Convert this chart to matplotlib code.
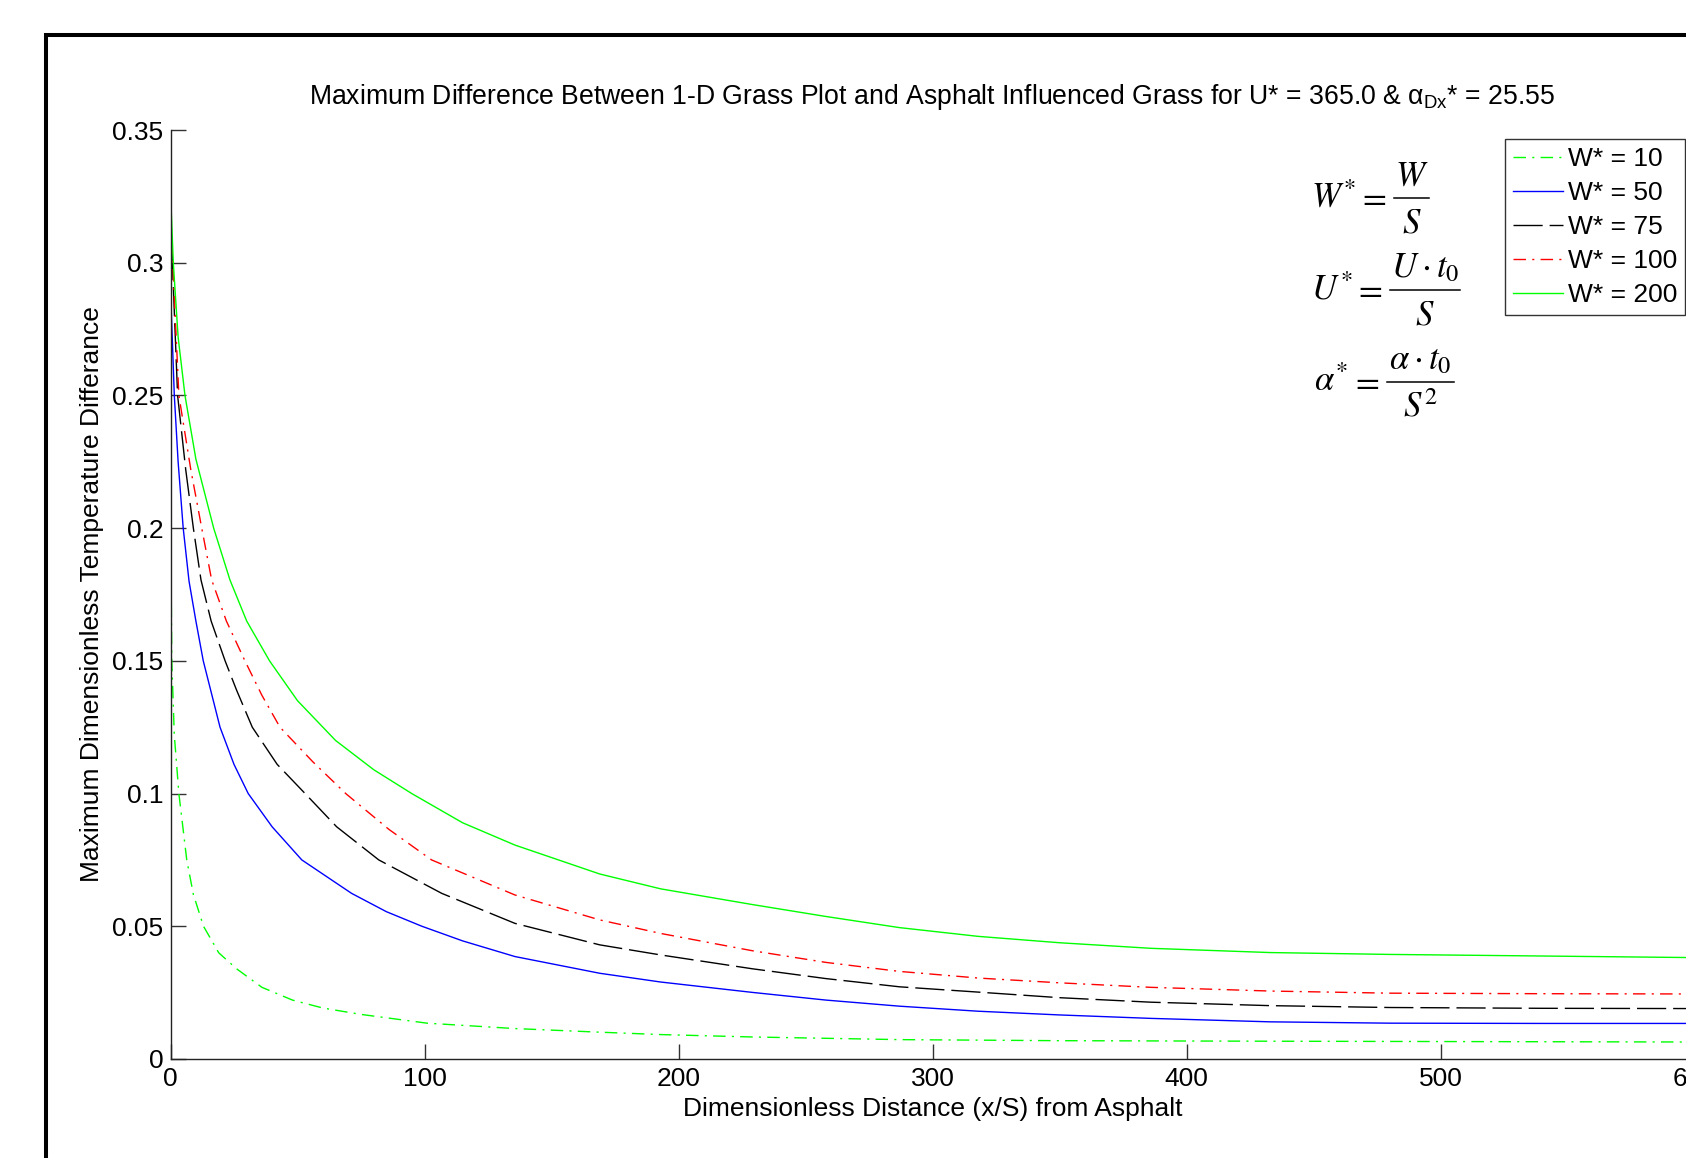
import matplotlib
matplotlib.use('Agg')
import matplotlib.pyplot as plt
from matplotlib.patches import Rectangle
from matplotlib.lines import Line2D

plt.rcParams['font.family'] = ['Liberation Sans', 'DejaVu Sans']
plt.rcParams['mathtext.rm'] = 'Liberation Sans'
plt.rcParams['mathtext.it'] = 'Liberation Sans:italic'
plt.rcParams['mathtext.bf'] = 'Liberation Sans:bold'

# ---------------- data ----------------
x_w10 = [0, 0.5, 1.5, 3.3, 6.4, 9, 13, 19, 26, 36, 48, 60, 75, 101, 135, 166.5,
         193, 229, 287, 350, 433, 600]
y_w10 = [0.212, 0.150, 0.122, 0.100, 0.075, 0.062, 0.050, 0.040, 0.034, 0.027,
         0.0222, 0.0192, 0.0168, 0.0135, 0.0115, 0.0102, 0.0092, 0.0083, 0.0073,
         0.0069, 0.0067, 0.0064]

x_w50 = [0, 1.5, 3, 5, 7.3, 10, 12.9, 19.5, 25, 30.6, 40, 51.7, 71.3, 85, 99, 115,
         135.6, 169, 193, 229, 258, 287, 318, 350, 386, 433, 480, 540, 600]
y_w50 = [0.290, 0.250, 0.225, 0.200, 0.180, 0.165, 0.150, 0.125, 0.111, 0.100,
         0.0875, 0.075, 0.0624, 0.0555, 0.050, 0.0445, 0.0386, 0.0323, 0.0290,
         0.0251, 0.0222, 0.0199, 0.0180, 0.0166, 0.0153, 0.0140, 0.0135, 0.0134,
         0.0134]

x_w75 = [0, 2.8, 6, 9, 12, 16, 21.5, 26, 32.2, 42, 53, 65.4, 82, 106.8, 135.6, 169,
         193, 229, 258, 287, 318, 350, 386, 433, 480, 540, 600]
y_w75 = [0.318, 0.250, 0.222, 0.200, 0.1805, 0.165, 0.150, 0.139, 0.125, 0.111,
         0.100, 0.0875, 0.075, 0.0624, 0.0511, 0.0430, 0.0392, 0.0340, 0.0303,
         0.0272, 0.0252, 0.0231, 0.0214, 0.0201, 0.0194, 0.0191, 0.0190]

x_w100 = [0, 3.3, 8, 12.3, 16.2, 22, 29.3, 36, 43.1, 56, 69, 86, 102.8, 135.6, 169,
          193, 229, 258, 287, 318, 350, 386, 433, 480, 540, 600]
y_w100 = [0.318, 0.250, 0.222, 0.200, 0.1805, 0.165, 0.150, 0.137, 0.125, 0.112,
          0.100, 0.0865, 0.075, 0.0618, 0.0524, 0.0473, 0.0408, 0.0364, 0.0330,
          0.0305, 0.0287, 0.0270, 0.0256, 0.0248, 0.0246, 0.0245]

x_w200 = [0, 1.1, 3, 5.7, 10, 17, 23.4, 30, 39, 50, 65, 80, 95, 115, 135.6, 169,
          193, 229, 258, 287, 318, 350, 386, 433, 480, 540, 600]
y_w200 = [0.327, 0.300, 0.272, 0.250, 0.226, 0.200, 0.1805, 0.165, 0.150, 0.135,
          0.120, 0.109, 0.100, 0.089, 0.0806, 0.0697, 0.0641, 0.0582, 0.0537,
          0.0495, 0.0462, 0.0438, 0.0417, 0.0401, 0.0394, 0.0388, 0.0382]

series_labels = ['W* = 10', 'W* = 50', 'W* = 75', 'W* = 100', 'W* = 200']
x_ticks = [0, 100, 200, 300, 400, 500, 600]
x_tick_labels = ['0', '100', '200', '300', '400', '500', '600']
y_ticks = [0, 0.05, 0.1, 0.15, 0.2, 0.25, 0.3, 0.35]
y_tick_labels = ['0', '0.05', '0.1', '0.15', '0.2', '0.25', '0.3', '0.35']

title_text = ('Maximum Difference Between 1-D Grass Plot and Asphalt Influenced Grass '
              'for U* = 365.0 & \u03b1$_{\\mathrm{Dx}}$* = 25.55')
x_label = 'Dimensionless Distance (x/S) from Asphalt'
y_label = 'Maximum Dimensionless Temperature Differance'

# ---------------- figure ----------------
W, H = 1686, 1158
fig = plt.figure(figsize=(W / 100, H / 100), dpi=100)
fig.patch.set_facecolor('white')

# outer black frame (cropped at right/bottom)
fig.add_artist(Rectangle((46 / W, -0.5), 2.0, 0.5 + (H - 35) / H,
                         transform=fig.transFigure, fill=False,
                         lw=2.9, ec='black', clip_on=False))

ax_left, ax_right = 170.5, 1694.5
ax_top, ax_bottom = 130, 1059
ax = fig.add_axes([ax_left / W, (H - ax_bottom) / H,
                   (ax_right - ax_left) / W, (ax_bottom - ax_top) / H])

dashdot = (0, (9, 4.5, 1.5, 4.5))
dashed = (0, (21, 5))
styles = [
    dict(color='#00FF00', linestyle=dashdot),
    dict(color='#0000FF', linestyle='-'),
    dict(color='black', linestyle=dashed),
    dict(color='#FF0000', linestyle=dashdot),
    dict(color='#00FF00', linestyle='-'),
]
xs = [x_w10, x_w50, x_w75, x_w100, x_w200]
ys = [y_w10, y_w50, y_w75, y_w100, y_w200]
handles = []
for xv, yv, st, lab in zip(xs, ys, styles, series_labels):
    h, = ax.plot(xv, yv, lw=1.0, label=lab, **st)
    handles.append(h)

ax.set_xlim(0, 600)
ax.set_ylim(0, 0.35)
ax.set_xticks(x_ticks)
ax.set_xticklabels(x_tick_labels)
ax.set_yticks(y_ticks)
ax.set_yticklabels(y_tick_labels)
for s in ['top', 'right']:
    ax.spines[s].set_visible(False)
for s in ['left', 'bottom']:
    ax.spines[s].set_linewidth(1.0)
    ax.spines[s].set_color('#222222')
ax.tick_params(direction='in', length=10.8, width=1.0, color='#333333',
               labelsize=19, labelcolor='black')
ax.tick_params(axis='x', pad=6)
ax.tick_params(axis='y', pad=5)

ax.set_xlabel(x_label, fontsize=19)
ax.xaxis.set_label_coords(0.5, -0.041)
ax.set_ylabel(y_label, fontsize=19)
ax.yaxis.set_label_coords(-0.0436, 0.5)

fig.text(932 / W, 1 - 104.5 / H, title_text, fontsize=19.2, ha='center',
         va='baseline', math_fontfamily='custom')

leg = ax.legend(handles=handles, loc='upper left',
                bbox_to_anchor=(1505 / W, 1 - 139 / H),
                bbox_transform=fig.transFigure, fontsize=19, frameon=True,
                fancybox=False, edgecolor='#333333', framealpha=1,
                handlelength=1.9, handletextpad=0.19, borderpad=0.3,
                labelspacing=0.38, borderaxespad=0)
leg.get_frame().set_linewidth(1.0)

# dimensionless definitions, laid out as stacked fractions
eq_lhs = [r'$W^{*}$', r'$U^{*}$', r'$\alpha^{*}$']
eq_num = [r'$W$', r'$U\cdot t_{0}$', r'$\alpha\cdot t_{0}$']
eq_den = [r'$S$', r'$S$', r'$S^{2}$']
eq_left = [1310.7, 1310.7, 1314.0]
eq_equals_x = [1357, 1353, 1350]
eq_bar_y = [198.3, 290, 381.7]
eq_bar_x = [(1394, 1429), (1390, 1460), (1387, 1454)]
for lhs, num, den, lx, ex, by, (bx0, bx1) in zip(eq_lhs, eq_num, eq_den, eq_left,
                                                 eq_equals_x, eq_bar_y, eq_bar_x):
    base = 1 - (by + 9) / H
    fig.text(lx / W, base, lhs, fontsize=25, ha='left', va='baseline',
             math_fontfamily='stix')
    fig.text(ex / W, base, r'$=$', fontsize=25, ha='left', va='baseline',
             math_fontfamily='stix')
    cx = (bx0 + bx1) / 2
    fig.text(cx / W, 1 - (by - 12.5) / H, num, fontsize=25, ha='center',
             va='baseline', math_fontfamily='stix')
    fig.text(cx / W, 1 - (by + 34.5) / H, den, fontsize=25, ha='center',
             va='baseline', math_fontfamily='stix')
    fig.add_artist(Line2D([bx0 / W, bx1 / W], [1 - by / H, 1 - by / H],
                          transform=fig.transFigure, color='black', lw=1.1))

fig.savefig('out.png', dpi=100)
